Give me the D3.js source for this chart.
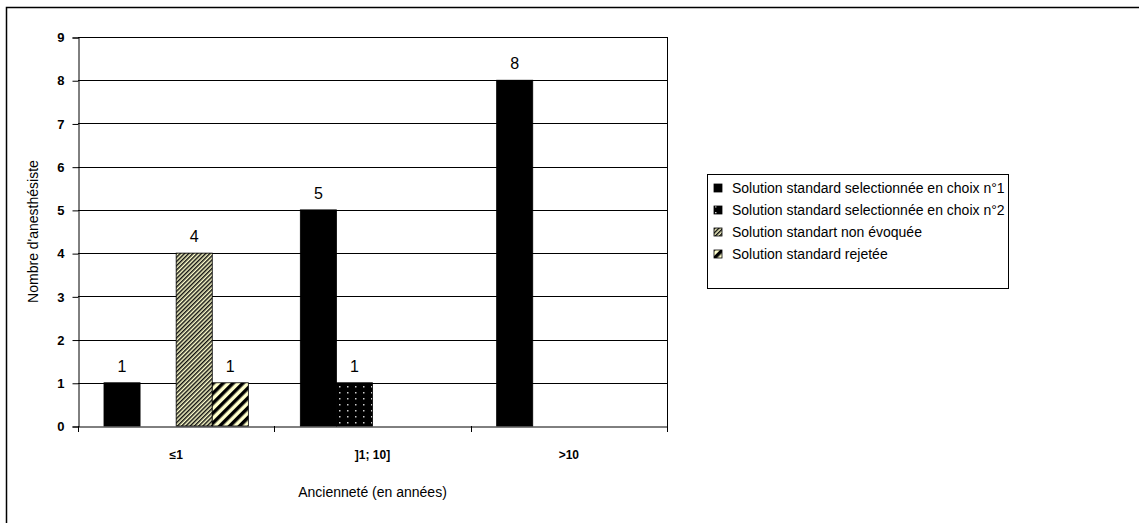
<!DOCTYPE html>
<html><head><meta charset="utf-8">
<script src="https://cdn.jsdelivr.net/npm/d3@7"></script>
<style>body{margin:0;background:#fff}svg{display:block}svg text{font-family:"Liberation Sans",Arial,sans-serif}</style>
</head><body><svg id="c" width="1139" height="523"></svg>
<script>
const categories = ["≤1", "]1; 10]", ">10"];
const seriesNames = ["Solution standard selectionnée en choix n°1", "Solution standard selectionnée en choix n°2", "Solution standart non évoquée", "Solution standard rejetée"];
const s1 = [1, 5, 8];
const s2 = [0, 1, 0];
const s3 = [4, 0, 0];
const s4 = [1, 0, 0];
const yTicks = [0,1,2,3,4,5,6,7,8,9];
const seriesValues = [s1, s2, s3, s4];
const fills = ["#000", "url(#pDots)", "url(#pFine)", "url(#pWide)"];

const svg = d3.select("#c");
const defs = svg.append("defs");
const pd = defs.append("pattern").attr("id","pDots").attr("patternUnits","userSpaceOnUse").attr("width",8).attr("height",6);
pd.append("rect").attr("width",8).attr("height",6).attr("fill","#000");
pd.append("rect").attr("x",3).attr("y",2).attr("width",1.5).attr("height",1.5).attr("fill","#ccc");
const pf = defs.append("pattern").attr("id","pFine").attr("patternUnits","userSpaceOnUse").attr("width",3).attr("height",3).attr("patternTransform","rotate(45)");
pf.append("rect").attr("width",3).attr("height",3).attr("fill","#ffffcc");
pf.append("rect").attr("width",1.5).attr("height",3).attr("fill","#111");
const pw = defs.append("pattern").attr("id","pWide").attr("patternUnits","userSpaceOnUse").attr("width",7).attr("height",7).attr("patternTransform","rotate(45)");
pw.append("rect").attr("width",7).attr("height",7).attr("fill","#ffffcc");
pw.append("rect").attr("width",3.5).attr("height",7).attr("fill","#000");

svg.append("rect").attr("x",6.5).attr("y",7.5).attr("width",1140).attr("height",520).attr("fill","none").attr("stroke","#000").attr("stroke-width",1.5);

const L = 78, R = 667, T = 37, B = 426;
const x = d3.scaleBand().domain(categories).range([L, R]).paddingInner(0).paddingOuter(0);
const y = d3.scaleLinear().domain([0, 9]).range([B, T]);
const inner = d3.scaleBand().domain(d3.range(4)).range([0, x.bandwidth()]).paddingOuter(0.72).paddingInner(0);

svg.append("g").selectAll("line").data(yTicks.filter(d=>d>0)).join("line")
  .attr("x1",L).attr("x2",R).attr("y1",d=>Math.round(y(d))+0.5).attr("y2",d=>Math.round(y(d))+0.5).attr("stroke","#000").attr("stroke-width",1);
svg.append("line").attr("x1",R+0.5).attr("x2",R+0.5).attr("y1",T).attr("y2",B).attr("stroke","#000");

seriesValues.forEach((vals, si) => {
  const data = vals.map((v,i)=>({v,c:categories[i]})).filter(d=>d.v>0);
  svg.append("g").selectAll("rect").data(data).join("rect")
    .attr("x", d => x(d.c) + inner(si))
    .attr("y", d => y(d.v))
    .attr("width", inner.bandwidth())
    .attr("height", d => y(0) - y(d.v))
    .attr("fill", fills[si]).attr("stroke","#000").attr("stroke-width",0.8);
  svg.append("g").selectAll("text").data(data).join("text")
    .attr("x", d => x(d.c) + inner(si) + inner.bandwidth()/2)
    .attr("y", d => y(d.v) - 11)
    .attr("text-anchor","middle").attr("font-size",16).text(d=>d.v);
});

const ya = svg.append("g").attr("transform",`translate(${L+0.5},0.5)`).call(d3.axisLeft(y).tickValues(yTicks).tickSize(6).tickPadding(8).tickFormat(d3.format("d")));
ya.attr("font-family",null);
ya.selectAll("text").attr("font-size",13).attr("font-weight","bold").attr("fill","#000");
ya.select(".domain").attr("stroke","#000");
const xa = svg.append("g").attr("transform",`translate(0,${B+0.5})`).call(d3.axisBottom(x).tickSize(0).tickPadding(24));
xa.attr("font-family",null);
xa.selectAll("text").attr("font-size",12).attr("font-weight","bold").attr("fill","#000");
xa.select(".domain").attr("stroke","#000");
svg.append("g").selectAll("line").data([L, ...categories.map(c=>x(c)+x.bandwidth())]).join("line")
  .attr("x1",d=>Math.round(d)+0.5).attr("x2",d=>Math.round(d)+0.5).attr("y1",B).attr("y2",B+6).attr("stroke","#000");

svg.append("text").attr("x",(L+R)/2).attr("y",497).attr("text-anchor","middle").attr("font-size",14).text("Ancienneté (en années)");
svg.append("text").attr("transform",`translate(38,${(T+B)/2}) rotate(-90)`).attr("text-anchor","middle").attr("font-size",14).text("Nombre d'anesthésiste");

const lg = svg.append("g");
lg.append("rect").attr("x",707.5).attr("y",174.5).attr("width",301).attr("height",114).attr("fill","#fff").attr("stroke","#000");
seriesNames.forEach((n,i)=>{
  const yy = 188 + i*22;
  lg.append("rect").attr("x",714).attr("y",yy-4).attr("width",8).attr("height",8).attr("fill",fills[i]).attr("stroke","#000").attr("stroke-width",0.8);
  lg.append("text").attr("x",732).attr("y",yy+5).attr("font-size",14).text(n);
});
</script></body></html>
